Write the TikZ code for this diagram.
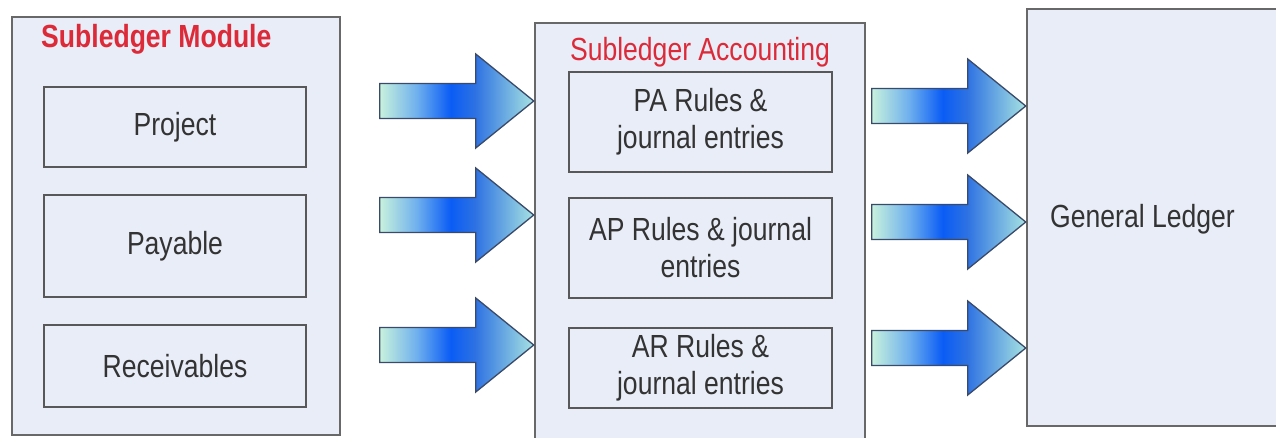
\documentclass[tikz,border=0pt]{standalone}
\usepackage{fontspec}
\setmainfont{Liberation Sans}[FakeStretch=0.83]
\usetikzlibrary{calc}
\definecolor{boxfill}{HTML}{E8EDF7}
\definecolor{boxline}{HTML}{686868}
\definecolor{innerline}{HTML}{585858}
\definecolor{titlered}{HTML}{DC2A38}
\definecolor{txt}{HTML}{333333}
\definecolor{amint}{HTML}{C8F2DC}
\definecolor{alblue}{HTML}{6FB0EE}
\definecolor{adeep}{HTML}{0A5CF5}
\definecolor{amid}{HTML}{2E72E2}
\definecolor{atip}{HTML}{A6E2E2}
\definecolor{aline}{HTML}{3A4A6A}
\pgfdeclarehorizontalshading{arrowshade}{100bp}{color(0bp)=(amint); color(25bp)=(amint); color(37bp)=(alblue); color(48bp)=(adeep); color(56bp)=(amid); color(75bp)=(atip); color(100bp)=(atip)}
\tikzset{
  outerbox/.style={draw=boxline, line width=2.5pt, fill=boxfill, inner sep=0pt},
  innerbox/.style={draw=innerline, line width=2.2pt, fill=boxfill, inner sep=0pt,
    text=txt, align=center, font=\fontsize{32}{37}\selectfont},
  redtitle/.style={text=titlered, inner sep=0pt, font=\fontsize{32}{36}\selectfont},
  gltext/.style={text=txt, inner sep=0pt, font=\fontsize{32}{36}\selectfont},
  arrowfill/.style={shading=arrowshade, draw=aline, line width=1.3pt, line join=miter},
  blockarr/.pic={
    \path[arrowfill] (-154,-17.5) -- (-58,-17.5) -- (-58,-47) -- (0,0)
      -- (-58,47) -- (-58,17.5) -- (-154,17.5) -- cycle;
  }
}
\begin{document}
\begin{tikzpicture}[x=1pt,y=-1pt]
\useasboundingbox[fill=white] (0,0) rectangle (1276,437);
\clip (0,0) rectangle (1276,437);
% left module
\node[outerbox, minimum width=328pt, minimum height=418pt] (sm) at (176,226) {};
\node[redtitle, font=\fontsize{32}{36}\selectfont\bfseries, anchor=base west] (smt) at (41,47) {Subledger Module};
\node[innerbox, minimum width=262pt, minimum height=80pt] (proj) at (175,127) {Project};
\node[innerbox, minimum width=262pt, minimum height=102pt] (pay) at (175,246) {Payable};
\node[innerbox, minimum width=262pt, minimum height=82pt] (rec) at (175,366) {Receivables};
% middle accounting
\node[outerbox, minimum width=330pt, minimum height=432pt] (acc) at (700,239) {};
\node[redtitle, anchor=base] (acct) at (700,60) {Subledger Accounting};
\node[innerbox, minimum width=263pt, minimum height=100pt] (pa) at (700.5,122) {PA Rules \&\\journal entries};
\node[innerbox, minimum width=263pt, minimum height=100pt] (ap) at (700.5,248) {AP Rules \& journal\\entries};
\node[innerbox, minimum width=263pt, minimum height=80pt] (ar) at (700.5,368) {AR Rules \&\\journal entries};
% general ledger
\node[outerbox, minimum width=270pt, minimum height=417pt] (gl) at (1162,217.5) {};
\node[gltext, anchor=base west] (glt) at (1050,227) {General Ledger};
% arrows into subledger accounting
\coordinate (la1) at (acc.west |- 0,101);
\coordinate (la2) at (acc.west |- 0,215);
\coordinate (la3) at (acc.west |- 0,345);
\pic at (la1) {blockarr};
\pic at (la2) {blockarr};
\pic at (la3) {blockarr};
% arrows into general ledger
\coordinate (ra1) at (gl.west |- 0,106);
\coordinate (ra2) at (gl.west |- 0,222);
\coordinate (ra3) at (gl.west |- 0,348);
\pic at (ra1) {blockarr};
\pic at (ra2) {blockarr};
\pic at (ra3) {blockarr};
\end{tikzpicture}
\end{document}
